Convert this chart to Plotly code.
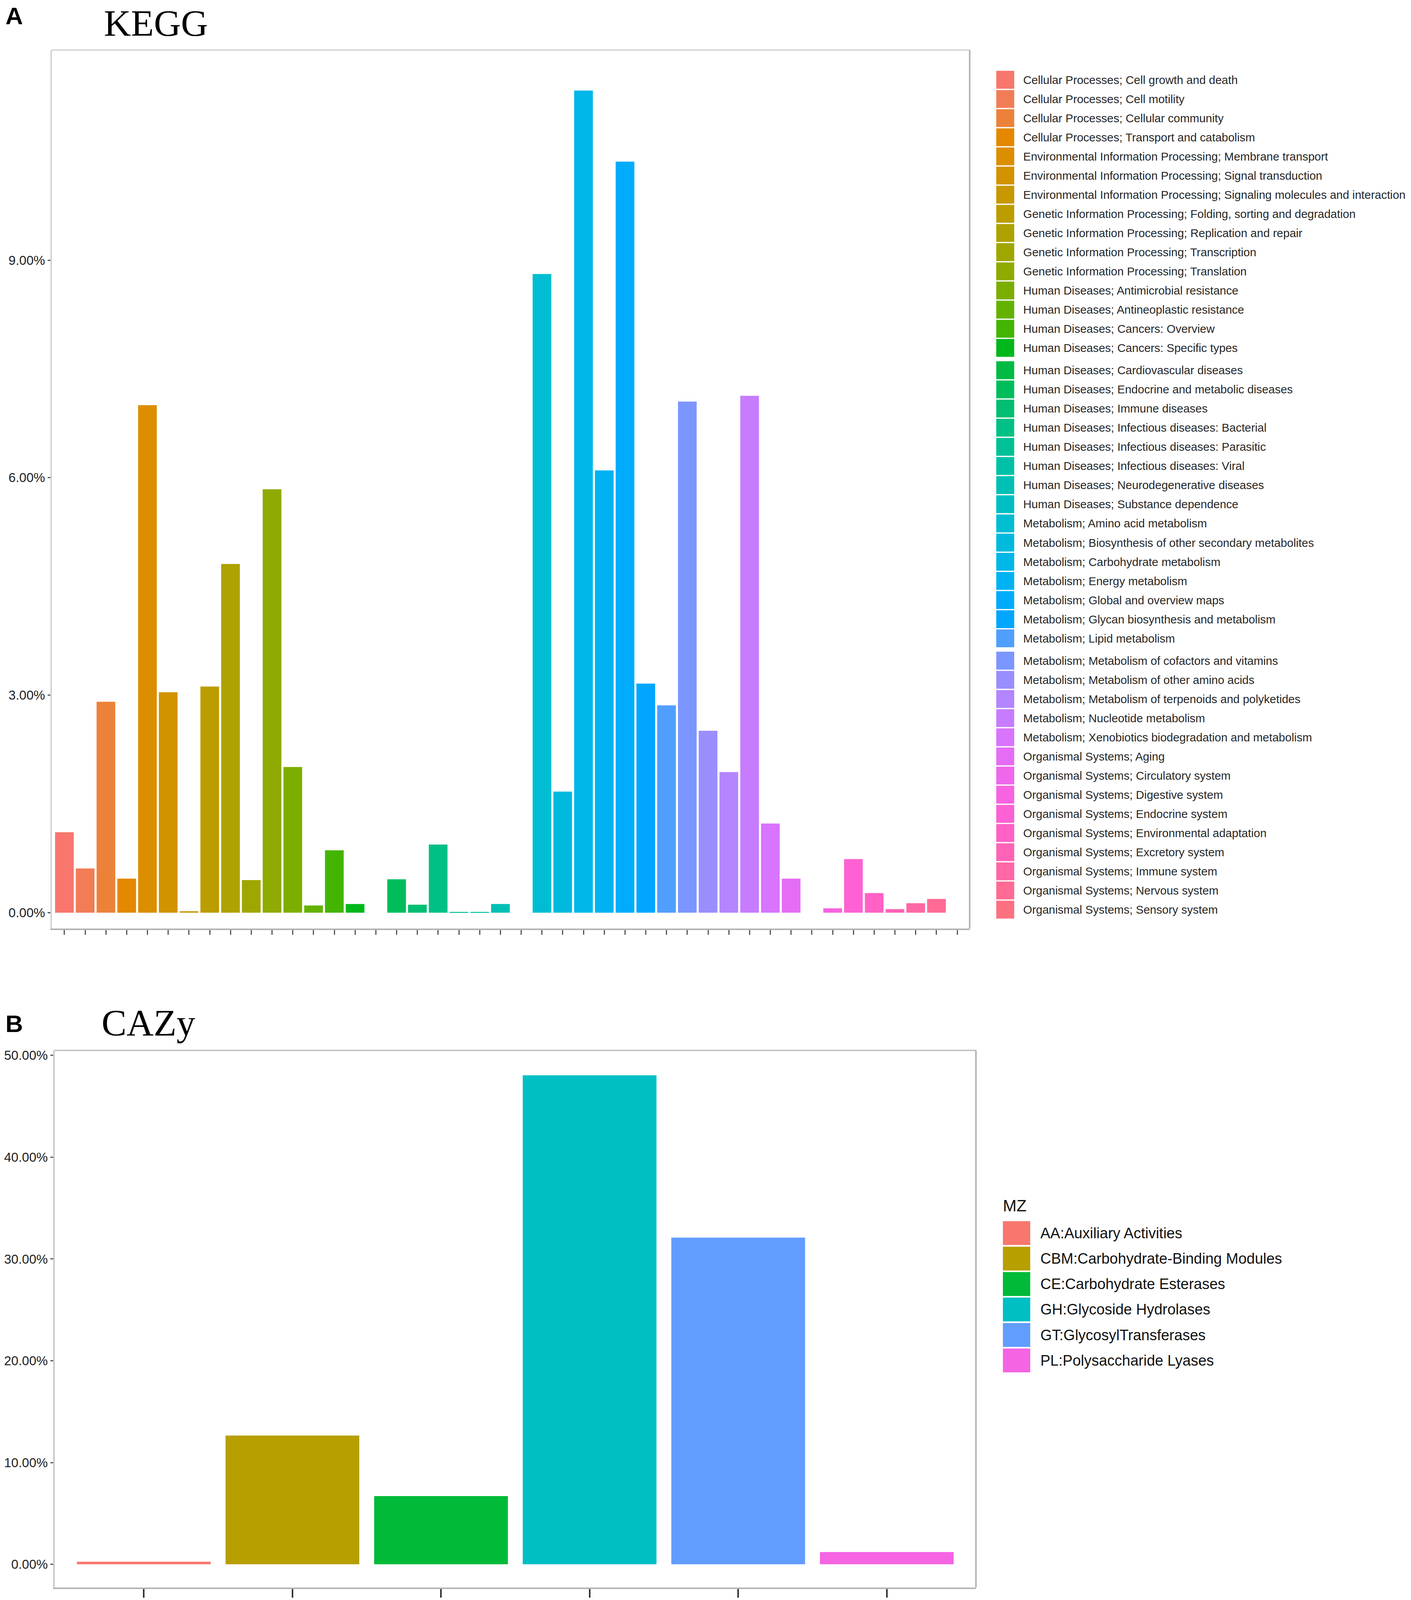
import math
import plotly.graph_objects as go

W, H = 3613, 4557

# ---------------- data ----------------
kegg_categories = [
    "Cellular Processes; Cell growth and death",
    "Cellular Processes; Cell motility",
    "Cellular Processes; Cellular community",
    "Cellular Processes; Transport and catabolism",
    "Environmental Information Processing; Membrane transport",
    "Environmental Information Processing; Signal transduction",
    "Environmental Information Processing; Signaling molecules and interaction",
    "Genetic Information Processing; Folding, sorting and degradation",
    "Genetic Information Processing; Replication and repair",
    "Genetic Information Processing; Transcription",
    "Genetic Information Processing; Translation",
    "Human Diseases; Antimicrobial resistance",
    "Human Diseases; Antineoplastic resistance",
    "Human Diseases; Cancers: Overview",
    "Human Diseases; Cancers: Specific types",
    "Human Diseases; Cardiovascular diseases",
    "Human Diseases; Endocrine and metabolic diseases",
    "Human Diseases; Immune diseases",
    "Human Diseases; Infectious diseases: Bacterial",
    "Human Diseases; Infectious diseases: Parasitic",
    "Human Diseases; Infectious diseases: Viral",
    "Human Diseases; Neurodegenerative diseases",
    "Human Diseases; Substance dependence",
    "Metabolism; Amino acid metabolism",
    "Metabolism; Biosynthesis of other secondary metabolites",
    "Metabolism; Carbohydrate metabolism",
    "Metabolism; Energy metabolism",
    "Metabolism; Global and overview maps",
    "Metabolism; Glycan biosynthesis and metabolism",
    "Metabolism; Lipid metabolism",
    "Metabolism; Metabolism of cofactors and vitamins",
    "Metabolism; Metabolism of other amino acids",
    "Metabolism; Metabolism of terpenoids and polyketides",
    "Metabolism; Nucleotide metabolism",
    "Metabolism; Xenobiotics biodegradation and metabolism",
    "Organismal Systems; Aging",
    "Organismal Systems; Circulatory system",
    "Organismal Systems; Digestive system",
    "Organismal Systems; Endocrine system",
    "Organismal Systems; Environmental adaptation",
    "Organismal Systems; Excretory system",
    "Organismal Systems; Immune system",
    "Organismal Systems; Nervous system",
    "Organismal Systems; Sensory system",
]
kegg_values = [
    1.11, 0.61, 2.91, 0.47, 7.00, 3.04, 0.02, 3.12, 4.81, 0.45, 5.84,
    2.01, 0.10, 0.86, 0.12, 0.00, 0.46, 0.11, 0.94, 0.01, 0.01, 0.12,
    0.00, 8.81, 1.67, 11.34, 6.10, 10.36, 3.16, 2.86, 7.05, 2.51, 1.94,
    7.13, 1.23, 0.47, 0.00, 0.06, 0.74, 0.27, 0.05, 0.13, 0.19, 0.00,
]
kegg_ytick_values = [0, 3, 6, 9]
kegg_ytick_labels = ["0.00%", "3.00%", "6.00%", "9.00%"]

cazy_categories = [
    "AA:Auxiliary Activities",
    "CBM:Carbohydrate-Binding Modules",
    "CE:Carbohydrate Esterases",
    "GH:Glycoside Hydrolases",
    "GT:GlycosylTransferases",
    "PL:Polysaccharide Lyases",
]
cazy_values = [0.25, 12.65, 6.70, 48.05, 32.10, 1.20]
cazy_ytick_values = [0, 10, 20, 30, 40, 50]
cazy_ytick_labels = ["0.00%", "10.00%", "20.00%", "30.00%", "40.00%", "50.00%"]


# ---------------- ggplot2 hue palette ----------------
def hcl_hex(h, c=100.0, l=65.0):
    hr = math.radians(h)
    u, v = c * math.cos(hr), c * math.sin(hr)
    Xn, Yn, Zn = 0.95047, 1.0, 1.08883
    Y = ((l + 16) / 116) ** 3 if l > 8 else l / 903.2963
    den = Xn + 15 * Yn + 3 * Zn
    un, vn = 4 * Xn / den, 9 * Yn / den
    up = u / (13 * l) + un
    vp = v / (13 * l) + vn
    X = 9 * Y * up / (4 * vp)
    Z = -X / 3 - 5 * Y + 3 * Y / vp
    rl = 3.240479 * X - 1.537150 * Y - 0.498535 * Z
    gl = -0.969256 * X + 1.875992 * Y + 0.041556 * Z
    bl = 0.055648 * X - 0.204043 * Y + 1.057311 * Z

    def gam(t):
        t = 12.92 * t if t <= 0.0031308 else 1.055 * t ** (1 / 2.4) - 0.055
        return int(round(min(max(t, 0.0), 1.0) * 255))

    return "#%02X%02X%02X" % (gam(rl), gam(gl), gam(bl))


def hue_pal(n):
    return [hcl_hex((15 + 360.0 * i / n) % 360) for i in range(n)]


kegg_colors = hue_pal(len(kegg_categories))
cazy_colors = hue_pal(len(cazy_categories))

SANS = "Liberation Sans, Arial, sans-serif"
SERIF = "Liberation Serif, Times New Roman, serif"


def px(x):
    return x / W


def py(y):
    return 1 - y / H


fig = go.Figure()
fig.add_trace(go.Bar(
    x=kegg_categories, y=kegg_values, width=0.9,
    marker=dict(color=kegg_colors, line=dict(width=0)),
    xaxis="x", yaxis="y", showlegend=False,
))
fig.add_trace(go.Bar(
    x=cazy_categories, y=cazy_values, width=0.9,
    marker=dict(color=cazy_colors, line=dict(width=0)),
    xaxis="x2", yaxis="y2", showlegend=False,
))

axis_common = dict(showgrid=False, zeroline=False, showline=True, ticks="outside")

fig.update_layout(
    width=W, height=H,
    margin=dict(l=0, r=0, t=0, b=0),
    paper_bgcolor="white", plot_bgcolor="white",
    font=dict(family=SANS, color="#222222"),
    bargap=0.1,
    xaxis=dict(
        axis_common, domain=[px(133), px(2483)], anchor="y",
        type="category", categoryorder="array", categoryarray=kegg_categories,
        range=[-0.6, len(kegg_categories) - 0.4],
        showticklabels=False, ticklen=12, tickwidth=3, tickcolor="#555555",
        linecolor="#B4B4B4", linewidth=4,
    ),
    yaxis=dict(
        axis_common, domain=[py(2643), py(138)], anchor="x",
        range=[-0.22, 11.9],
        tickvals=kegg_ytick_values, ticktext=kegg_ytick_labels,
        ticklen=7, tickwidth=3, tickcolor="#555555",
        tickfont=dict(size=33, color="#222222", family=SANS),
        linecolor="#D4D4D4", linewidth=4,
    ),
    xaxis2=dict(
        axis_common, domain=[px(140), px(2499)], anchor="y2",
        type="category", categoryorder="array", categoryarray=cazy_categories,
        range=[-0.6, len(cazy_categories) - 0.4],
        showticklabels=False, ticklen=22, tickwidth=4, tickcolor="#333333",
        linecolor="#B4B4B4", linewidth=4,
    ),
    yaxis2=dict(
        axis_common, domain=[py(4521), py(2990)], anchor="x2",
        range=[-2.27, 50.5],
        tickvals=cazy_ytick_values, ticktext=cazy_ytick_labels,
        ticklen=7, tickwidth=3, tickcolor="#555555",
        tickfont=dict(size=33, color="#222222", family=SANS),
        linecolor="#C8C8C8", linewidth=4,
    ),
)

shapes = []
annotations = []

# top / right panel borders
for xr, yr, topc, rightc in (("x", "y", "#D8D8D8", "#B4B4B4"), ("x2", "y2", "#C8C8C8", "#B4B4B4")):
    shapes.append(dict(type="line", xref=xr + " domain", yref=yr + " domain",
                       x0=0, x1=1, y0=1, y1=1, line=dict(color=topc, width=4)))
    shapes.append(dict(type="line", xref=xr + " domain", yref=yr + " domain",
                       x0=1, x1=1, y0=0, y1=1, line=dict(color=rightc, width=4)))

# panel titles
annotations += [
    dict(text="<b>A</b>", x=px(12), y=1.0, xref="paper", yref="paper",
         xanchor="left", yanchor="top", showarrow=False,
         font=dict(family=SANS, size=62, color="black")),
    dict(text="KEGG", x=px(264), y=1.0, xref="paper", yref="paper",
         xanchor="left", yanchor="top", showarrow=False,
         font=dict(family=SERIF, size=96, color="black")),
    dict(text="<b>B</b>", x=px(12), y=py(2873), xref="paper", yref="paper",
         xanchor="left", yanchor="top", showarrow=False,
         font=dict(family=SANS, size=62, color="black")),
    dict(text="CAZy", x=px(258), y=py(2850), xref="paper", yref="paper",
         xanchor="left", yanchor="top", showarrow=False,
         font=dict(family=SERIF, size=96, color="black")),
]

# legend for panel A (drawn as keys + labels)
step_a = 54.6
for i, (name, col) in enumerate(zip(kegg_categories, kegg_colors)):
    cy = 223 + step_a * i + (9 if i >= 15 else 0) + (9 if i >= 30 else 0)
    shapes.append(dict(type="rect", xref="paper", yref="paper",
                       x0=px(2551), x1=px(2597), y0=py(cy - 25.5), y1=py(cy + 25.5),
                       fillcolor=col, line=dict(width=0)))
    annotations.append(dict(text=name, x=px(2618), y=py(cy), xref="paper", yref="paper",
                            xanchor="left", yanchor="middle", showarrow=False,
                            font=dict(family=SANS, size=29.5, color="#262626")))

# legend for panel B
annotations.append(dict(text="MZ", x=px(2566), y=py(3433), xref="paper", yref="paper",
                        xanchor="left", yanchor="middle", showarrow=False,
                        font=dict(family=SANS, size=42, color="#111111")))
step_b = 72.6
for i, (name, col) in enumerate(zip(cazy_categories, cazy_colors)):
    cy = 3511 + step_b * i
    shapes.append(dict(type="rect", xref="paper", yref="paper",
                       x0=px(2568), x1=px(2638), y0=py(cy - 34), y1=py(cy + 34),
                       fillcolor=col, line=dict(width=0)))
    annotations.append(dict(text=name, x=px(2662), y=py(cy), xref="paper", yref="paper",
                            xanchor="left", yanchor="middle", showarrow=False,
                            font=dict(family=SANS, size=38, color="#111111")))

fig.update_layout(shapes=shapes, annotations=annotations)

fit_js = """
var gd = document.getElementById('{plot_id}');
document.documentElement.style.margin = '0';
document.body.style.margin = '0';
document.documentElement.style.overflow = 'hidden';
document.body.style.overflow = 'hidden';
var w = window.innerWidth, h = window.innerHeight;
if (w > 0 && h > 0) {
  gd.style.width = w + 'px';
  gd.style.height = h + 'px';
  Plotly.relayout(gd, {width: w, height: h});
}
"""

fig.write_html("out.html", post_script=fit_js, config={"displayModeBar": False})
